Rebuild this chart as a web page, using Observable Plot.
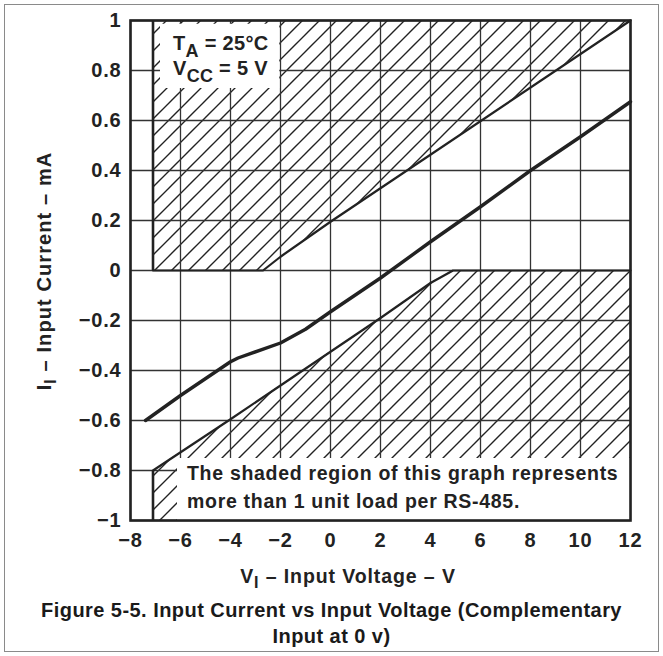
<!DOCTYPE html>
<html><head><meta charset="utf-8">
<script src="https://cdn.jsdelivr.net/npm/d3@7"></script>
<script src="https://cdn.jsdelivr.net/npm/@observablehq/plot@0.6"></script>
<style>
body{margin:0;background:#fff;font-family:"Liberation Sans",Arial,sans-serif;}
#wrap{position:relative;width:663px;height:656px;overflow:hidden;}
#border{position:absolute;left:4px;top:4px;width:653px;height:646px;border:1.5px solid #8a8a8a;box-sizing:content-box;}
#chart{position:absolute;left:0;top:0;}
#caption{position:absolute;left:0;top:597px;width:663px;text-align:center;font-weight:bold;font-size:20px;letter-spacing:0.45px;line-height:26px;color:#1a1a1a;}
</style></head><body>
<div id="wrap"><div id="border"></div><div id="chart"></div><div id="caption">Figure 5-5. Input Current vs Input Voltage (Complementary<br>Input at 0 v)</div></div>
<script>
// ---- data ----
const xTicks = [-8, -6, -4, -2, 0, 2, 4, 6, 8, 10, 12];
const xTickLabels = ["−8", "−6", "−4", "−2", "0", "2", "4", "6", "8", "10", "12"];
const yTicks = [-1, -0.8, -0.6, -0.4, -0.2, 0, 0.2, 0.4, 0.6, 0.8, 1];
const yTickLabels = ["−1", "−0.8", "−0.6", "−0.4", "−0.2", "0", "0.2", "0.4", "0.6", "0.8", "1"];

// measured input current curve (V, mA)
const curveV = [-7.4, -6, -4, -3.7, -2, -1, 0, 2, 4, 6, 8, 10, 12];
const curveI = [-0.6, -0.5, -0.365, -0.35, -0.29, -0.235, -0.165, -0.03, 0.115, 0.255, 0.4, 0.535, 0.675];

// upper unit-load boundary (shaded above)
const upperV = [-7.1, -2.7, -2, 0, 12];
const upperI = [0, 0, 0.055, 0.195, 1];

// lower unit-load boundary (shaded below)
const lowerV = [-7.1, -4, -2, 0, 2, 4, 4.9, 12];
const lowerI = [-0.8, -0.595, -0.46, -0.325, -0.19, -0.05, 0, 0];

const curve = curveV.map((v, i) => ({v, i: curveI[i]}));
const upper = upperV.map((v, i) => ({v, i: upperI[i]}));
const lower = lowerV.map((v, i) => ({v, i: lowerI[i]}));

const ink = "#222";

const plot = Plot.plot({
  width: 663,
  height: 598,
  marginTop: 20,
  marginLeft: 130,
  marginRight: 33,
  marginBottom: 78,
  style: {fontFamily: "'Liberation Sans', Arial, sans-serif", fontWeight: "bold", fontSize: "20px", letterSpacing: "0.8px", color: ink, background: "transparent"},
  x: {domain: [-8, 12]},
  y: {domain: [-1, 1]},
  marks: [
    Plot.areaY(upper, {x: "v", y1: "i", y2: 1, fill: "url(#hatch)"}),
    Plot.areaY(lower, {x: "v", y1: -1, y2: "i", fill: "url(#hatch)"}),
    Plot.ruleX(xTicks, {stroke: "#333", strokeWidth: 1.3}),
    Plot.ruleY(yTicks, {stroke: "#333", strokeWidth: 1.3}),
    Plot.rect([0], {x1: -6.8, x2: -2.03, y1: 0.728, y2: 0.985, fill: "white"}),
    Plot.rect([0], {x1: -6.12, x2: 12, y1: -1, y2: -0.752, fill: "white"}),
    Plot.line(upper, {x: "v", y: "i", stroke: ink, strokeWidth: 2.2}),
    Plot.line(lower, {x: "v", y: "i", stroke: ink, strokeWidth: 2.2}),
    Plot.ruleX([upperV[0]], {y1: upperI[0], y2: 1, stroke: ink, strokeWidth: 2.6}),
    Plot.ruleX([lowerV[0]], {y1: -1, y2: lowerI[0], stroke: ink, strokeWidth: 2.6}),
    Plot.line(curve, {x: "v", y: "i", stroke: ink, strokeWidth: 3.4}),
    Plot.frame({stroke: ink, strokeWidth: 2.6}),
    Plot.axisX(xTicks, {tickSize: 0, tickPadding: 12, label: null, tickFormat: d => xTickLabels[xTicks.indexOf(d)]}),
    Plot.axisY(yTicks, {tickSize: 0, tickPadding: 9, label: null, tickFormat: d => yTickLabels[yTicks.indexOf(d)]})
  ]
});
document.getElementById("chart").appendChild(plot);

const svg = d3.select(plot);
const defs = svg.insert("defs", ":first-child");
const pat = defs.append("pattern").attr("id", "hatch").attr("patternUnits", "userSpaceOnUse")
  .attr("width", 17).attr("height", 17);
pat.append("path").attr("d", "M-3,3 L3,-3 M0,17 L17,0 M14,20 L20,14")
  .attr("stroke", ink).attr("stroke-width", 1.4).attr("fill", "none");

function rich(x, y, parts, o) {
  const t = svg.append("text").attr("x", x).attr("y", y)
    .attr("font-size", o.size).attr("font-weight", "bold").attr("fill", o.fill || ink)
    .attr("text-anchor", o.anchor || "start").style("white-space", "pre")
    .style("letter-spacing", (o.ls || 0) + "px");
  if (o.rotate) t.attr("transform", `rotate(-90 ${x} ${y})`);
  let shifted = false;
  for (const [s, sub] of parts) {
    const ts = t.append("tspan").text(s);
    if (sub) { ts.attr("font-size", o.subSize); if (!shifted) { ts.attr("dy", o.shift); shifted = true; } }
    else if (shifted) { ts.attr("dy", -o.shift); shifted = false; }
  }
  return t;
}

// in-plot notes
rich(173, 50, [["T"], ["A", 1], [" = 25°C"]], {size: 20, subSize: 18, shift: 7, ls: 0.3});
rich(173, 75, [["V"], ["CC", 1], [" = 5 V"]], {size: 20, subSize: 18, shift: 7, ls: 0.3});
rich(187, 480, [["The shaded region of this graph represents"]], {size: 19.5, ls: 0.7});
rich(187, 508, [["more than 1 unit load per RS-485."]], {size: 19.5, ls: 0.7});

// axis titles
rich(348, 583, [["V"], ["I", 1], [" – Input Voltage – V"]], {size: 19.5, subSize: 16, shift: 5, anchor: "middle", ls: 0.9});
rich(51, 271, [["I"], ["I", 1], [" – Input Current – mA"]], {size: 20, subSize: 16, shift: 5, anchor: "middle", rotate: true, ls: 1.1});
</script>
</body></html>
